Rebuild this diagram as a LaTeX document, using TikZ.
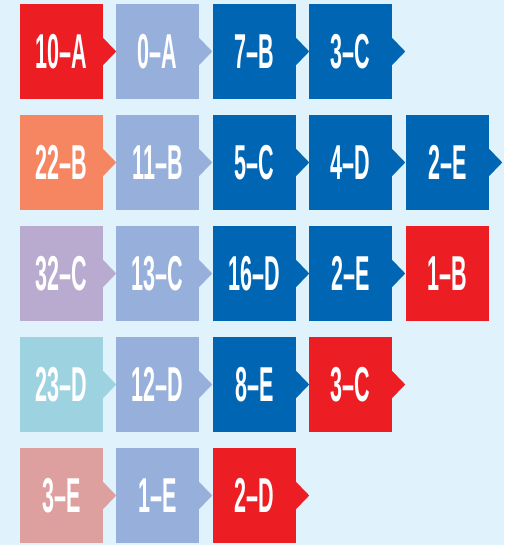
\documentclass[tikz,border=0pt]{standalone}
\usepackage{fontspec}
\newfontfamily\tilefont{Liberation Sans}
\newcommand\tilelabel[2]{\scalebox{0.44}[1]{#1\textendash#2}}
\definecolor{tred}{RGB}{237,29,36}
\definecolor{tperi}{RGB}{151,176,219}
\definecolor{tblue}{RGB}{0,102,179}
\definecolor{tsalmon}{RGB}{246,134,98}
\definecolor{tlilac}{RGB}{185,170,207}
\definecolor{tteal}{RGB}{157,211,225}
\definecolor{tpink}{RGB}{221,160,158}
\definecolor{tbg}{RGB}{224,242,252}
\begin{document}
\begin{tikzpicture}[x=1pt, y=-1pt,
    % Estilos
    tile/.style={
        fill=#1, minimum width=83pt, minimum height=95pt, inner sep=0pt,
        font=\fontsize{49}{49}\tilefont\bfseries, text=white
    },
    nub/.style={
        fill=#1
    }
]

% fondo
\fill[tbg] (0,0) rectangle (504,545);
\useasboundingbox (0,0) rectangle (504,545);

% =============================================
% FILA 1
% =============================================
\node[tile=tred]  (a1) at (61.5, 51.5)  {\tilelabel{10}{A}};
\node[tile=tperi] (a2) at (157.5, 51.5) {\tilelabel{0}{A}};
\node[tile=tblue] (a3) at (254.5, 51.5) {\tilelabel{7}{B}};
\node[tile=tblue] (a4) at (350.5, 51.5) {\tilelabel{3}{C}};

% =============================================
% FILA 2
% =============================================
\node[tile=tsalmon] (b1) at (61.5, 162.5)  {\tilelabel{22}{B}};
\node[tile=tperi]   (b2) at (157.5, 162.5) {\tilelabel{11}{B}};
\node[tile=tblue]   (b3) at (254.5, 162.5) {\tilelabel{5}{C}};
\node[tile=tblue]   (b4) at (350.5, 162.5) {\tilelabel{4}{D}};
\node[tile=tblue]   (b5) at (447.5, 162.5) {\tilelabel{2}{E}};

% =============================================
% FILA 3
% =============================================
\node[tile=tlilac] (c1) at (61.5, 273.5)  {\tilelabel{32}{C}};
\node[tile=tperi]  (c2) at (157.5, 273.5) {\tilelabel{13}{C}};
\node[tile=tblue]  (c3) at (254.5, 273.5) {\tilelabel{16}{D}};
\node[tile=tblue]  (c4) at (350.5, 273.5) {\tilelabel{2}{E}};
\node[tile=tred]   (c5) at (447.5, 273.5) {\tilelabel{1}{B}};

% =============================================
% FILA 4
% =============================================
\node[tile=tteal] (d1) at (61.5, 384.5)  {\tilelabel{23}{D}};
\node[tile=tperi] (d2) at (157.5, 384.5) {\tilelabel{12}{D}};
\node[tile=tblue] (d3) at (254.5, 384.5) {\tilelabel{8}{E}};
\node[tile=tred]  (d4) at (350.5, 384.5) {\tilelabel{3}{C}};

% =============================================
% FILA 5
% =============================================
\node[tile=tpink] (e1) at (61.5, 495.5)  {\tilelabel{3}{E}};
\node[tile=tperi] (e2) at (157.5, 495.5) {\tilelabel{1}{E}};
\node[tile=tred]  (e3) at (254.5, 495.5) {\tilelabel{2}{D}};

% =============================================
% FLECHAS (muescas a la derecha)
% =============================================
\foreach \n/\c in {a1/tred, a2/tperi, a3/tblue, a4/tblue,
                   b1/tsalmon, b2/tperi, b3/tblue, b4/tblue, b5/tblue,
                   c1/tlilac, c2/tperi, c3/tblue, c4/tblue,
                   d1/tteal, d2/tperi, d3/tblue, d4/tred,
                   e1/tpink, e2/tperi, e3/tred}
    \fill[nub=\c] (\n.east) ++(0,-13.5) -- ++(13,13.5) -- ++(-13,13.5) -- cycle;

\end{tikzpicture}
\end{document}
